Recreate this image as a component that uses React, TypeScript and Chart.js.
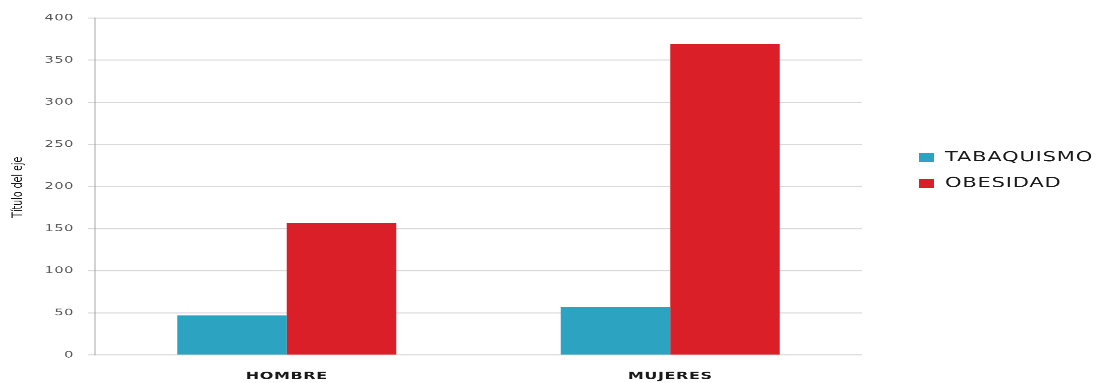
import React, { useEffect, useRef } from "react";
import { Chart, registerables } from "chart.js";

Chart.register(...registerables);

const categories = ["HOMBRE", "MUJERES"];
const seriesNames = ["TABAQUISMO", "OBESIDAD"];
const tabaquismo = [47, 57];
const obesidad = [157, 369];
const seriesColors = ["#2CA3C0", "#DA1F29"];
const yTicks = [0, 50, 100, 150, 200, 250, 300, 350, 400];
const axisTitle = "Título del eje";

const W = 1100;
const H_OUT = 383;
const H = 589;
const SY = H_OUT / H;

const extrasPlugin = {
  id: "extras",
  beforeDraw(chart: any) {
    (chart.ctx as any).letterSpacing = "0.6px";
  },
  afterDraw(chart: any) {
    const ctx = chart.ctx as any;
    ctx.save();
    // axis title
    ctx.letterSpacing = "0px";
    ctx.fillStyle = "#111111";
    ctx.font = "14.5px 'DejaVu Sans'";
    ctx.textAlign = "center";
    ctx.textBaseline = "middle";
    ctx.translate(18, 288);
    ctx.rotate(-Math.PI / 2);
    ctx.fillText(axisTitle, 0, 0);
    ctx.restore();

    // legend
    ctx.save();
    ctx.letterSpacing = "0.8px";
    ctx.font = "21px 'DejaVu Sans'";
    ctx.textAlign = "left";
    ctx.textBaseline = "middle";
    const ys = [241.5, 281];
    chart.data.datasets.forEach((ds: any, i: number) => {
      ctx.fillStyle = ds.backgroundColor;
      ctx.fillRect(919, ys[i] - 6, 15, 14);
      ctx.fillStyle = "#1a1a1a";
      ctx.fillText(ds.label, 945, ys[i] + 1);
    });
    ctx.restore();
  },
};

export default function App() {
  const ref = useRef<HTMLCanvasElement>(null);
  useEffect(() => {
    if (!ref.current) return;
    const chart = new Chart(ref.current, {
      type: "bar",
      data: {
        labels: categories,
        datasets: [
          { label: seriesNames[0], data: tabaquismo, backgroundColor: seriesColors[0] },
          { label: seriesNames[1], data: obesidad, backgroundColor: seriesColors[1] },
        ],
      },
      options: {
        animation: false,
        responsive: false,
        devicePixelRatio: 2,
        layout: { padding: { top: 27.7, right: 238, bottom: 0, left: 0 } },
        datasets: {
          bar: { categoryPercentage: 0.571, barPercentage: 1.0 },
        },
        plugins: {
          legend: { display: false },
          tooltip: { enabled: false },
        },
        scales: {
          x: {
            grid: { display: false, drawTicks: false },
            border: { display: false },
            ticks: {
              color: "#1a1a1a",
              font: { family: "'DejaVu Sans'", size: 16, weight: "bold" },
              padding: 23,
            },
            afterFit(scale: any) {
              scale.height = 43;
            },
          },
          y: {
            min: 0,
            max: 400,
            afterBuildTicks(scale: any) {
              scale.ticks = yTicks.map((v) => ({ value: v }));
            },
            grid: {
              color: "#d9d9d9",
              lineWidth: 1.6,
              tickLength: 7,
              drawTicks: true,
              tickColor: "#d9d9d9",
            },
            border: { display: true, color: "#a6a6a6", width: 1 },
            ticks: {
              color: "#595959",
              font: { family: "'DejaVu Sans'", size: 14.5 },
              padding: 14,
            },
            afterFit(scale: any) {
              scale.width = 95;
            },
          },
        },
      },
      plugins: [extrasPlugin],
    });
    return () => chart.destroy();
  }, []);

  return (
    <div
      style={{
        position: "absolute",
        left: 0,
        top: 0,
        width: W,
        height: H_OUT,
        overflow: "hidden",
        background: "#ffffff",
      }}
    >
      <div
        style={{
          width: W,
          height: H,
          transform: `scaleY(${SY})`,
          transformOrigin: "0 0",
        }}
      >
        <canvas ref={ref} width={W} height={H} style={{ display: "block" }} />
      </div>
    </div>
  );
}
